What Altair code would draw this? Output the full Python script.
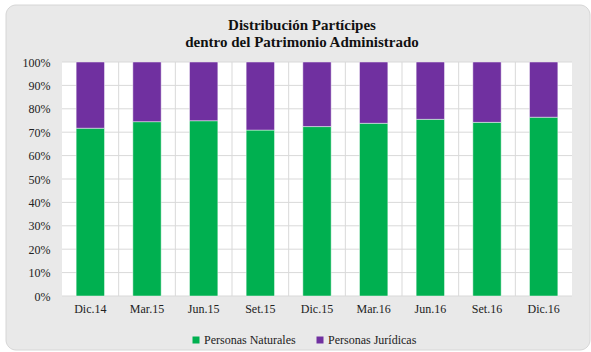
import altair as alt
import pandas as pd

categories = ["Dic.14", "Mar.15", "Jun.15", "Set.15", "Dic.15", "Mar.16", "Jun.16", "Set.16", "Dic.16"]
naturales = [0.717, 0.745, 0.749, 0.709, 0.724, 0.738, 0.755, 0.742, 0.764]
juridicas = [round(1 - v, 3) for v in naturales]
series = ["Personas Naturales", "Personas Jurídicas"]
colors = ["#00b050", "#7030a0"]
y_ticks = [i / 10 for i in range(11)]
title_lines = ["Distribución Partícipes", "dentro del Patrimonio Administrado"]

rows = []
for c, n, j in zip(categories, naturales, juridicas):
    rows.append({"cat": c, "serie": series[0], "val": n, "ord": 0})
    rows.append({"cat": c, "serie": series[1], "val": j, "ord": 1})
df = pd.DataFrame(rows)

W, H = 510, 234
FONT = "Liberation Serif"
step = W / len(categories)

xscale = alt.Scale(domain=categories, paddingInner=0.5, paddingOuter=0.25)
yscale = alt.Scale(domain=[0, 1])

xaxis = alt.Axis(labelAngle=0, domain=False, ticks=False, grid=False, zindex=2,
                 labelFont=FONT, labelFontSize=12, labelColor="#222222",
                 labelPadding=7)
yaxis = alt.Axis(format="%", values=y_ticks, domain=False, ticks=False, grid=False, zindex=2,
                 labelFont=FONT, labelFontSize=12, labelColor="#222222",
                 labelPadding=12)

panel = alt.Chart(alt.Data(values=[{}])).mark_rect(
    fill="#e9e9e9", stroke="#d6d6d6", strokeWidth=1, cornerRadius=10
).encode(
    x=alt.value(-56), x2=alt.value(528), y=alt.value(-57), y2=alt.value(288)
)

plotbg = alt.Chart(alt.Data(values=[{}])).mark_rect(fill="white").encode(
    x=alt.value(0), x2=alt.value(W), y=alt.value(0), y2=alt.value(H)
)

def title_layer(line, ypos):
    return alt.Chart(pd.DataFrame({"t": [line]})).mark_text(
        font=FONT, fontSize=15, fontWeight="bold", color="#111111",
        align="center", baseline="alphabetic"
    ).encode(text="t:N", x=alt.value(240), y=alt.value(ypos))

title1 = title_layer(title_lines[0], -32)
title2 = title_layer(title_lines[1], -15.5)

hgrid = alt.Chart(pd.DataFrame({"t": y_ticks})).mark_rule(
    color="#d9d9d9", strokeWidth=1
).encode(
    y=alt.Y("t:Q", scale=yscale, axis=yaxis, title=None),
    x=alt.value(0), x2=alt.value(W)
)

vgrid = alt.Chart(pd.DataFrame({"cat": categories[:-1]})).mark_rule(
    color="#d9d9d9", strokeWidth=1, xOffset=step / 2
).encode(
    x=alt.X("cat:N", scale=xscale, axis=xaxis, title=None),
    y=alt.value(0), y2=alt.value(H)
)

bars = alt.Chart(df).mark_bar(stroke="#ffffff", strokeOpacity=0.45, strokeWidth=1).encode(
    x=alt.X("cat:N", sort=categories, scale=xscale, title=None, axis=xaxis),
    y=alt.Y("val:Q", stack="zero", scale=yscale, title=None, axis=yaxis),
    color=alt.Color("serie:N", scale=alt.Scale(domain=series, range=colors),
                    legend=alt.Legend(title=None, orient="none", direction="horizontal",
                                      legendX=128, legendY=272, symbolType="square",
                                      symbolSize=49, symbolStrokeWidth=0, zindex=2,
                                      labelFont=FONT, labelFontSize=12, labelColor="#222222",
                                      labelOffset=2, columnPadding=18)),
    order=alt.Order("ord:Q"),
)

chart = alt.layer(panel, plotbg, hgrid, vgrid, bars, title1, title2).resolve_scale(
    x="shared", y="shared"
).properties(
    width=W, height=H,
    autosize=alt.AutoSizeParams(type="none"),
    padding={"left": 62, "top": 62, "right": 19, "bottom": 56},
    background="white",
).configure(font=FONT).configure_axis(labelFont=FONT).configure_legend(labelFont=FONT).configure_view(stroke=None)

chart.save("out.html", embed_options={"renderer": "svg", "actions": False})
